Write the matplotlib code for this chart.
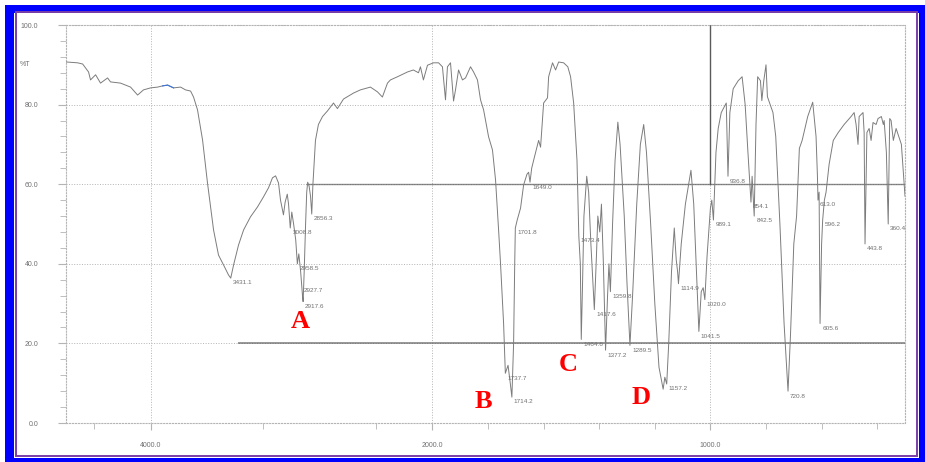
import numpy as np
import matplotlib
matplotlib.use("Agg")
import matplotlib.pyplot as plt
from matplotlib.patches import Rectangle
from matplotlib.ticker import FixedLocator, FixedFormatter, NullFormatter

# --- IR spectrum: wavenumber (cm-1) and transmittance (%T) ---
wavenumber = [
    4596, 4518, 4482, 4440, 4426, 4390, 4355, 4305, 4284, 4213, 4142, 4092, 4050, 4000,
    3950, 3915, 3879, 3837, 3787, 3752, 3716, 3695, 3667, 3631, 3596, 3553, 3518, 3482,
    3447, 3431.1, 3411, 3376, 3340, 3291, 3241, 3199, 3163, 3135, 3113, 3092, 3078, 3057,
    3045, 3030, 3021, 3008.8, 2998, 2985, 2970, 2958.5, 2948, 2935, 2927.7, 2922, 2917.6,
    2910, 2900, 2892, 2885, 2875, 2865, 2856.3, 2848, 2840, 2830, 2809, 2780, 2745, 2702,
    2674, 2631, 2560, 2511, 2440, 2390, 2355, 2319, 2298, 2248, 2177, 2135, 2099, 2085,
    2064, 2035, 1996, 1978, 1964, 1953, 1946, 1935, 1924, 1917, 1906, 1892, 1881, 1863,
    1852, 1838, 1827, 1816, 1798, 1784, 1773, 1762, 1755, 1744, 1737.7, 1728, 1720, 1714.2,
    1708, 1704, 1701.8, 1695, 1683, 1672, 1660, 1654, 1649.0, 1643, 1636, 1618, 1611, 1600,
    1586, 1582, 1568, 1557, 1546, 1528, 1513, 1503, 1492, 1480, 1473.4, 1468, 1464.6, 1460,
    1455, 1445, 1438, 1430, 1417.6, 1410, 1405, 1398, 1392, 1385, 1377.2, 1370, 1365, 1359.8,
    1352, 1343, 1333, 1325, 1310, 1300, 1289.5, 1280, 1265, 1252, 1240, 1230, 1215, 1200,
    1185, 1170, 1164, 1160, 1157.2, 1150, 1140, 1130, 1123, 1118, 1114.9, 1105, 1090, 1070,
    1060, 1050, 1041.5, 1033, 1026, 1020.0, 1012, 1000, 995, 989.1, 980, 972, 961, 943,
    936.8, 930, 918, 900, 886, 875, 865, 854.1, 850, 842.5, 836, 830, 820, 815, 808, 800,
    795, 785, 775, 765, 750, 735, 720.8, 712, 700, 690, 680, 670, 650, 632, 620, 615, 613.0,
    609, 605.6, 600, 596.2, 590, 584, 573, 558, 540, 519, 494, 483, 476, 469, 465, 451, 447,
    443.8, 437, 429, 422, 415, 404, 397, 385, 378, 375, 367, 360.4, 355, 350, 342, 332, 313,
    300,
]
transmittance = [
    90.7, 90.5, 90.2, 88.2, 86.2, 87.5, 85.4, 86.7, 85.7, 85.4, 84.4, 82.4, 83.7, 84.2,
    84.4, 84.7, 84.9, 84.2, 84.4, 83.7, 83.4, 81.9, 78.7, 71.1, 60.3, 48.5, 42.2, 39.7,
    37.2, 36.4, 39.7, 44.7, 48.5, 51.8, 54.3, 56.8, 59.1, 61.6, 62.1, 60.3, 56.0, 52.3,
    55.5, 57.5, 55.0, 49.0, 53.0, 50.0, 46.0, 40.0, 42.5, 38.0, 34.5, 32.0, 30.5,
    38.0, 50.0, 58.0, 60.5, 59.5, 57.0, 52.5, 60.0, 65.0, 71.0, 75.0, 77.0, 78.4, 80.4,
    79.0, 81.4, 82.9, 83.7, 84.4, 83.2, 81.9, 85.4, 86.2, 87.0, 88.2, 88.7, 88.0, 89.5,
    86.2, 89.9, 90.5, 90.5, 89.5, 81.2, 89.5, 90.5, 80.9, 83.7, 88.7, 86.2, 86.7, 89.5,
    88.2, 86.2, 81.2, 78.7, 71.9, 68.6, 61.1, 48.5, 40.0, 25.0, 12.5, 14.5, 10.0, 6.5,
    20.0, 40.0, 49.0, 51.0, 54.0, 59.8, 62.5, 63.0, 60.5, 64.0, 66.0, 71.0, 69.3, 80.4,
    81.7, 87.0, 90.5, 88.7, 90.7, 90.5, 89.5, 87.0, 80.4, 66.0, 47.0, 40.0, 21.0, 35.0,
    52.0, 62.0, 58.0, 45.0, 28.5, 42.0, 52.0, 48.0, 55.0, 40.0, 18.3, 32.0, 40.0, 33.0,
    50.0, 66.0, 75.6, 70.0, 52.0, 35.0, 19.5, 32.0, 55.0, 70.0, 75.0, 68.0, 50.0, 30.0,
    14.0, 8.5, 11.5, 10.5, 9.8, 20.0, 38.0, 49.0, 41.0, 38.0, 35.0, 45.0, 55.0, 63.5,
    55.0, 38.0, 23.0, 33.0, 34.0, 31.0, 42.0, 54.0, 56.0, 51.0, 68.0, 74.0, 78.0, 80.4,
    62.0, 78.0, 84.0, 86.0, 87.0, 80.0, 68.0, 55.5, 62.0, 52.0, 75.0, 87.0, 86.0, 81.0, 86.0, 90.0,
    82.0, 80.0, 78.0, 72.0, 50.0, 25.0, 8.0, 22.0, 45.0, 52.0, 69.0, 71.0, 77.0, 80.6, 72.0, 62.0, 56.0,
    58.0, 25.0, 45.0, 51.0, 56.0, 58.0, 65.0, 71.0, 73.0, 75.0, 77.0, 78.0, 75.0, 70.0, 77.0, 78.0, 73.0,
    45.0, 73.0, 74.0, 71.0, 75.5, 75.0, 76.5, 77.0, 75.0, 76.0, 68.0, 50.0, 76.5, 76.0, 71.0, 74.0, 70.0,
    57.0,
]

# picked peaks (labelled with their wavenumber)
peak_wavenumber = [3431.1, 3008.8, 2958.5, 2927.7, 2917.6, 2856.3, 1737.7, 1714.2, 1701.8,
                   1649.0, 1473.4, 1464.6, 1417.6, 1377.2, 1359.8, 1289.5, 1157.2, 1114.9,
                   1041.5, 1020.0, 989.1, 936.8, 854.1, 842.5, 720.8, 613.0, 605.6, 596.2,
                   443.8, 360.4]
peak_transmittance = [36.4, 49.0, 40.0, 34.5, 30.5, 52.5, 12.5, 6.5, 49.0,
                      60.5, 47.0, 21.0, 28.5, 18.3, 33.0, 19.5, 9.8, 35.0,
                      23.0, 31.0, 51.0, 62.0, 55.5, 52.0, 8.0, 56.0, 25.0, 51.0,
                      45.0, 50.0]

# band letters
band_names = ["A", "B", "C", "D"]
band_wavenumber = [2936, 1816, 1510, 1250]
band_transmittance = [25.4, 5.3, 14.8, 6.3]

y_ticks = [0, 20, 40, 60, 80, 100]
y_minor = [v for v in range(0, 101, 4) if v % 20]
x_ticks = [4000, 2000, 1000]
x_tick_labels = ["4000.0", "2000.0", "1000.0"]
x_minor = [4400, 3200, 2400, 1800, 1600, 1400, 1200, 800, 600, 400]

# above 2000 cm-1 the axis is compressed (instrument style)
K = 0.507


def fwd(w):
    w = np.asarray(w, dtype=float)
    return np.where(w <= 2000, w, 2000 + (w - 2000) * K)


def inv(u):
    u = np.asarray(u, dtype=float)
    return np.where(u <= 2000, u, 2000 + (u - 2000) / K)


W, H = 925, 462
fig = plt.figure(figsize=(W / 100, H / 100), dpi=100)

# --- blue / purple frame around the whole image ---
frame = fig.add_axes([0, 0, 1, 1])
frame.set_xlim(0, W)
frame.set_ylim(H, 0)
frame.axis("off")
frame.add_patch(Rectangle((5, 5), W - 5, H - 5, color="#0000ff", lw=0))
frame.add_patch(Rectangle((14, 13), 905, 445, color="white", lw=0))
frame.add_patch(Rectangle((15.5, 12), 901.5, 443.5, fill=False, ec="#7a3ea6", lw=1.4))

ax = fig.add_axes([66 / W, (H - 423) / H, (905 - 66) / W, (423 - 25) / H])
ax.set_facecolor("none")
ax.set_xscale("function", functions=(fwd, inv))
ax.set_xlim(4600, 300)
ax.set_ylim(0, 100)

grid_col = "#b4b4b4"
dark_col = "#5a5a5a"
for y in y_ticks[1:]:
    ax.axhline(y, color=grid_col, ls=":", lw=0.7, zorder=1)
for x in x_ticks:
    ax.axvline(x, color=grid_col, ls=":", lw=0.7, zorder=1)
ax.axvline(1000, ymin=0.6, ymax=1.0, color=dark_col, lw=1.0, zorder=1)
ax.hlines(20, 3383, 300, color=dark_col, lw=1.1, alpha=0.8, zorder=1)
ax.hlines(60, 2900, 300, color=dark_col, lw=1.0, alpha=0.7, zorder=1)

for s in ax.spines.values():
    s.set_color(grid_col)
    s.set_linestyle(":")
    s.set_linewidth(0.8)

# spectrum
ax.plot(wavenumber, transmittance, color="#7c7c7c", lw=0.7, zorder=3)
wn = np.array(wavenumber)
tr = np.array(transmittance)
seg = (wn <= 3915) & (wn >= 3837)
ax.plot(wn[seg], tr[seg], color="#3d74d6", lw=0.8, zorder=4)

for w, t in zip(peak_wavenumber, peak_transmittance):
    ax.annotate(f"{w:.1f}", xy=(w, t), xytext=(1.5, -3.5), textcoords="offset points",
                ha="left", va="center", fontsize=4.6, color="#707070",
                family="Liberation Sans", zorder=5)

for name, w, t in zip(band_names, band_wavenumber, band_transmittance):
    ax.text(w, t, name, ha="center", va="center", fontsize=19, color="#ff0000",
            fontweight="bold", family="Liberation Serif", zorder=6)

# ticks
ax.xaxis.set_major_locator(FixedLocator(x_ticks))
ax.xaxis.set_major_formatter(FixedFormatter(x_tick_labels))
ax.xaxis.set_minor_locator(FixedLocator(x_minor))
ax.xaxis.set_minor_formatter(NullFormatter())
ax.yaxis.set_major_locator(FixedLocator(y_ticks))
ax.yaxis.set_major_formatter(FixedFormatter([f"{v:.1f}" for v in y_ticks]))
ax.yaxis.set_minor_locator(FixedLocator(y_minor))
ax.tick_params(axis="both", which="both", color=grid_col, labelcolor="#707070",
               labelsize=5, direction="out")
ax.tick_params(axis="x", which="major", length=5, pad=9)
ax.tick_params(axis="x", which="minor", length=4)
ax.tick_params(axis="y", which="major", length=6, pad=14)
ax.tick_params(axis="y", which="minor", length=4)
for lbl in ax.get_xticklabels() + ax.get_yticklabels():
    lbl.set_family("Liberation Sans")

ax.annotate("%T", xy=(0, 90), xycoords=("axes fraction", "data"), xytext=(-26, 0),
            textcoords="offset points", ha="right", va="center", fontsize=5,
            color="#707070", family="Liberation Sans")

fig.savefig("out.png", dpi=100)
